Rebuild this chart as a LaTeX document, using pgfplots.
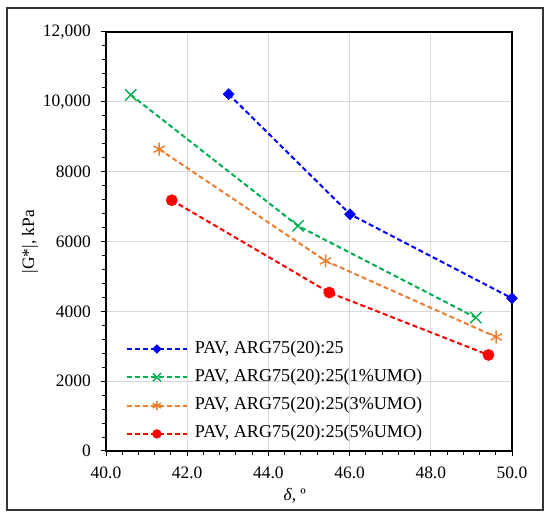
\documentclass[border=0pt]{standalone}
\usepackage{pgfplots}
\pgfplotsset{compat=1.18}
\usepackage{fontspec}
\setmainfont{Liberation Serif}
\definecolor{cblue}{RGB}{0,0,255}
\definecolor{cgreen}{RGB}{0,176,80}
\definecolor{corange}{RGB}{237,125,49}
\definecolor{cred}{RGB}{255,0,0}
\definecolor{cgrid}{RGB}{217,217,217}
\pgfplotsset{legimg/.style={legend image code/.code={\draw[mark repeat=2,mark phase=2,##1,mark size=#1] plot coordinates {(0bp,0bp) (30bp,0bp) (60bp,0bp)};}}}
\begin{document}
\begin{tikzpicture}
\path (0,0) rectangle (550bp,517bp);
\draw[line width=1.5bp, black!80] (7bp,7bp) rectangle (543bp,509bp);
\begin{axis}[
  at={(106bp,66bp)}, anchor=south west,
  scale only axis, width=406bp, height=419bp,
  xmin=40, xmax=50, ymin=0, ymax=12000,
  scaled y ticks=false, scaled x ticks=false,
  xtick={40,42,44,46,48,50},
  xticklabels={40.0,42.0,44.0,46.0,48.0,50.0},
  ytick={0,2000,4000,6000,8000,10000,12000},
  yticklabels={0,2000,4000,6000,8000,{10,000},{12,000}},
  minor x tick num=4, minor y tick num=4,
  tick pos=left, tick align=outside,
  major tick length=5bp, minor tick length=4bp,
  every tick/.style={black, line width=1bp},
  axis line style={black, line width=1.3bp},
  grid=major, major grid style={cgrid, line width=1bp},
  font=\fontsize{17.5}{21}\selectfont,
  every tick label/.append style={inner sep=0pt, font=\fontsize{17.5}{21}\selectfont},
  yticklabel style={xshift=-10bp},
  xticklabel style={yshift=-11bp},
  xlabel={\textit{δ}, º},
  ylabel={|G*|, kPa},
  xlabel style={at={(axis description cs:0.465,0)}, anchor=base, yshift=-49bp, inner sep=0pt},
  ylabel style={at={(axis description cs:-0.1773,0.5)}, anchor=base, inner sep=0pt},
  legend cell align=left,
  legend style={at={(axis description cs:0.049,0.2625)}, anchor=north west,
    draw=none, fill=none, inner sep=0pt, outer sep=0pt,
    font=\fontsize{18.2}{21}\selectfont,
    row sep=12.3bp, column sep=7bp,
    nodes={inner sep=0pt, text height=12bp, text depth=4bp}},
  every axis plot/.append style={line width=2bp, dash pattern=on 5bp off 3bp},
  every mark/.append style={solid},
]
\addplot[cblue, mark=square*, mark size=3.8bp, mark options={solid, rotate=45, fill=cblue, line width=0.8bp}, legimg=2.9bp]
  coordinates {(43.02,10220) (46.01,6781) (50.0,4374)};
\addlegendentry{PAV, ARG75(20):25}
\addplot[cgreen, mark=x, mark size=8bp, mark options={solid, line width=1.4bp}, legimg=5.8bp]
  coordinates {(40.61,10200) (44.73,6447) (49.11,3820)};
\addlegendentry{PAV, ARG75(20):25(1\%UMO)}
\addplot[corange, mark=asterisk, mark size=6.5bp, mark options={solid, line width=1.4bp}, legimg=4.8bp]
  coordinates {(41.31,8644) (45.41,5444) (49.61,3266)};
\addlegendentry{PAV, ARG75(20):25(3\%UMO)}
\addplot[cred, mark=*, mark size=5.6bp, mark options={solid, fill=cred, line width=0.5bp}, legimg=4.4bp]
  coordinates {(41.62,7182) (45.50,4537) (49.42,2751)};
\addlegendentry{PAV, ARG75(20):25(5\%UMO)}
\end{axis}
\end{tikzpicture}
\end{document}
